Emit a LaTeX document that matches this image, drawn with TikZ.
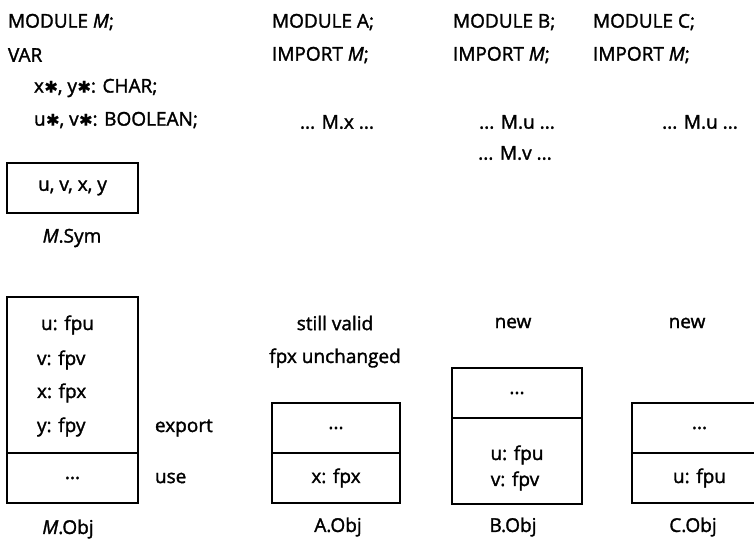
\documentclass[tikz,border=0pt]{standalone}
\usepackage{fontspec}
\setmainfont{Open Sans}[FakeBold=1.6]
\newfontfamily\starfont{DejaVu Sans}[FakeBold=0.8]
\newcommand{\st}{\hspace{0.5pt}{\starfont\fontsize{16}{16}\selectfont ✱}}
\begin{document}
\begin{tikzpicture}[x=1pt,y=-1pt,
  every node/.style={font=\fontsize{19}{22}\selectfont, inner sep=0pt, outer sep=0pt},
  txt/.style={anchor=west},
  part/.style={draw, line width=1.7pt, anchor=north west, minimum width=#1},
  part/.default=131]
\useasboundingbox (0,0) rectangle (754,545);
% Module M source
\node[txt] (mM) at (8,22) {MODULE \textit{M};};
\node[txt] (mvar) at (8,55) {VAR};
\node[txt] (mxy) at (34,88) {x\st, y\st: CHAR;};
\node[txt] (muv) at (34,120) {u\st, v\st: BOOLEAN;};
% Modules A, B, C
\node[txt] (mA) at (272,22) {MODULE A;};
\node[txt] (iA) at (272,55) {IMPORT \textit{M};};
\node[txt] (mB) at (453,22) {MODULE B;};
\node[txt] (iB) at (453,55) {IMPORT \textit{M};};
\node[txt] (mC) at (593,22) {MODULE C;};
\node[txt] (iC) at (593,55) {IMPORT \textit{M};};
\node (uA) at (337,122) {... M.x ...};
\node (uB1) at (517,122) {... M.u ...};
\node (uB2) at (515,153) {... M.v ...};
\node (uC) at (700,122) {... M.u ...};
% M.Sym
\node[part, minimum height=50] (sym) at (7,163) {u, v, x, y};
\node (symlbl) at (72,238) {\textit{M}.Sym};
% M.Obj
\node[part, minimum height=156] (mexp) at (7,297) {};
\node[part, minimum height=50] (muse) at (7,453) {...};
\node[txt] (m1) at (41,325) {u: fpu};
\node[txt] (m2) at (37,360) {v: fpv};
\node[txt] (m3) at (37,393) {x: fpx};
\node[txt] (m4) at (37,427) {y: fpy};
\node[txt] (exl) at (155,428) {export};
\node[txt] (usl) at (155,478) {use};
\node (mobj) at (68,529) {\textit{M}.Obj};
% A.Obj
\node (a1) at (335,323) {still valid};
\node (a2) at (335,358) {fpx unchanged};
\node[part=128, minimum height=50] (atop) at (272,403) {...};
\node[part=128, minimum height=50] (abot) at (272,453) {x: fpx};
\node (aobj) at (338,527) {A.Obj};
% B.Obj
\node (b1) at (513,323) {new};
\node[part=130, minimum height=50] (btop) at (452,368) {...};
\node[part=130, minimum height=86] (bbot) at (452,418) {};
\node (bu) at (517,455) {u: fpu};
\node (bv) at (515,481) {v: fpv};
\node (bobj) at (513,527) {B.Obj};
% C.Obj
\node (c1) at (687,323) {new};
\node[part=135, minimum height=50] (ctop) at (632,403) {...};
\node[part=135, minimum height=50] (cbot) at (632,453) {u: fpu};
\node (cobj) at (693,527) {C.Obj};
\end{tikzpicture}
\end{document}
